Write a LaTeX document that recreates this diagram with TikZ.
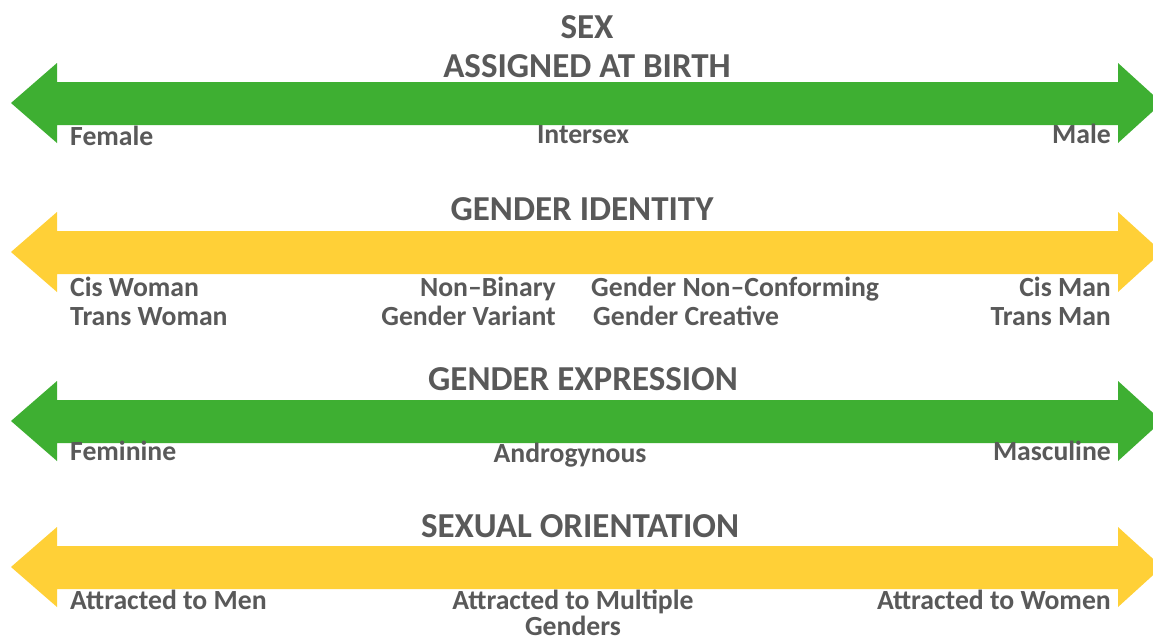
\documentclass[tikz,border=0pt]{standalone}
\usepackage{fontspec}
\setmainfont{Carlito}
\definecolor{agreen}{RGB}{62,175,50}
\definecolor{ayellow}{RGB}{255,208,55}
\definecolor{tgray}{RGB}{89,89,89}
\begin{document}
\begin{tikzpicture}[x=1pt,y=-1pt,
  title/.style={font=\fontsize{35}{38}\selectfont\bfseries, text=tgray, inner sep=0pt, anchor=base},
  lbl/.style={font=\fontsize{27.7}{29}\selectfont\bfseries, text=tgray, inner sep=0pt}
]
\useasboundingbox[fill=white] (0,0) rectangle (1153,637);
% arrows
\fill[agreen] (11,103) -- (57,63) -- (57,82) -- (1118,82) -- (1118,63) -- (1162,103) -- (1118,143) -- (1118,125) -- (57,125) -- (57,143) -- cycle;
\fill[ayellow] (11,252) -- (57,212) -- (57,231) -- (1118,231) -- (1118,212) -- (1162,252) -- (1118,292) -- (1118,274) -- (57,274) -- (57,292) -- cycle;
\fill[agreen] (11,421) -- (57,381) -- (57,400) -- (1118,400) -- (1118,381) -- (1162,421) -- (1118,461) -- (1118,443) -- (57,443) -- (57,461) -- cycle;
\fill[ayellow] (11,567) -- (57,527) -- (57,546) -- (1118,546) -- (1118,527) -- (1162,567) -- (1118,607) -- (1118,589) -- (57,589) -- (57,607) -- cycle;
% titles
\node[title] (t1a) at (587,38) {SEX};
\node[title] (t1b) at (587,77) {ASSIGNED AT BIRTH};
\node[title] (t2) at (582,220) {GENDER IDENTITY};
\node[title] (t3) at (583,390) {GENDER EXPRESSION};
\node[title] (t4) at (580,537) {SEXUAL ORIENTATION};
% labels row 1
\node[lbl,anchor=base west] (fem) at (70,145) {Female};
\node[lbl,anchor=base] (inter) at (583,143) {Intersex};
\node[lbl,anchor=base east] (male) at (1111,143) {Male};
% row 2
\node[lbl,anchor=base west] (cw) at (70,296) {Cis Woman};
\node[lbl,anchor=base west] (tw) at (70,325) {Trans Woman};
\node[lbl,anchor=base east] (nb) at (556,296) {Non–Binary};
\node[lbl,anchor=base east] (gv) at (556,325) {Gender Variant};
\node[lbl,anchor=base west] (gnc) at (591,296) {Gender Non–Conforming};
\node[lbl,anchor=base west] (gc) at (593,325) {Gender Creative};
\node[lbl,anchor=base east] (cm) at (1111,296) {Cis Man};
\node[lbl,anchor=base east] (tm) at (1111,325) {Trans Man};
% row 3
\node[lbl,anchor=base west] (femi) at (70,460) {Feminine};
\node[lbl,anchor=base] (andro) at (570,462) {Androgynous};
\node[lbl,anchor=base east] (masc) at (1111,460) {Masculine};
% row 4
\node[lbl,anchor=base west] (men) at (70,609) {Attracted to Men};
\node[lbl,anchor=base] (multi) at (573,609) {Attracted to Multiple};
\node[lbl,anchor=base] (gend) at (573,635) {Genders};
\node[lbl,anchor=base east] (women) at (1111,609) {Attracted to Women};
\end{tikzpicture}
\end{document}
